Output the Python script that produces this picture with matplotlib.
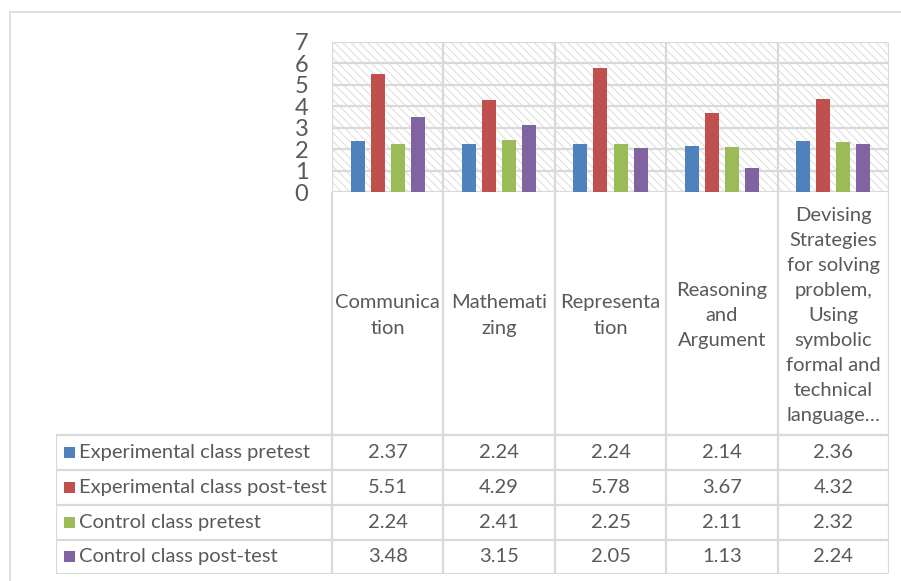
import numpy as np
import matplotlib.pyplot as plt
from matplotlib.patches import Rectangle

plt.rcParams['font.family'] = ['Lato', 'DejaVu Sans']

categories = ['Communica\ntion', 'Mathemati\nzing', 'Representa\ntion',
              'Reasoning\nand\nArgument',
              'Devising\nStrategies\nfor solving\nproblem,\nUsing\nsymbolic\nformal and\ntechnical\nlanguage…']
series = ['Experimental class pretest', 'Experimental class post-test',
          'Control class pretest', 'Control class post-test']
exp_pre = [2.37, 2.24, 2.24, 2.14, 2.36]
exp_post = [5.51, 4.29, 5.78, 3.67, 4.32]
ctl_pre = [2.24, 2.41, 2.25, 2.11, 2.32]
ctl_post = [3.48, 3.15, 2.05, 1.13, 2.24]
colors = ['#4F81BD', '#C0504D', '#9BBB59', '#8064A2']
values = [exp_pre, exp_post, ctl_pre, ctl_post]

txt = '#595959'
grid = '#d9d9d9'
W, H = 901, 581
plt.rcParams['hatch.linewidth'] = 0.7

fig = plt.figure(figsize=(W / 100, H / 100), dpi=100)

# outer chart frame
fig.add_artist(Rectangle((10 / W, -0.1), 1.1, 1.1 - 12 / H, transform=fig.transFigure,
                         fill=False, edgecolor=grid, linewidth=1.2))

# plot area
left, right, top, bottom = 332, 889, 42, 192
colw = (right - left) / 5
ax = fig.add_axes([left / W, 1 - bottom / H, (right - left) / W, (bottom - top) / H])
ax.set_xlim(-0.5, 4.5)
ax.set_ylim(0, 7)
ax.add_patch(Rectangle((-0.5, 0), 5, 7, facecolor='white', edgecolor='#dcdcdc',
                       linewidth=0, hatch='\\\\\\\\', zorder=0))
for y in range(8):
    ax.axhline(y, color=grid, linewidth=1.6, zorder=1)
for x in np.arange(-0.5, 5, 1):
    ax.axvline(x, color=grid, linewidth=1.6, zorder=1)

x = np.arange(len(categories))
step, bw = 0.18, 0.126
for k, (vals, c) in enumerate(zip(values, colors)):
    ax.bar(x + (k - 1.5) * step, vals, width=bw, color=c, zorder=3)

ax.set_xticks([])
ax.set_yticks(range(8))
ax.tick_params(axis='y', length=0, pad=17, labelsize=17, labelcolor=txt)
for s in ax.spines.values():
    s.set_visible(False)

# data table under the plot
tleft, tbot = 56, 574
rows = [435, 470, 505, 539.5, 574]
tax = fig.add_axes([tleft / W, 1 - tbot / H, (right - tleft) / W, (tbot - bottom) / H])
xl = -0.5 - (left - tleft) / colw
tax.set_xlim(xl, 4.5)
tax.set_ylim(tbot, bottom)
tax.axis('off')


def px2x(px):
    return -0.5 + (px - left) / colw


lw = 1.6
for xv in np.arange(-0.5, 5, 1):
    tax.plot([xv, xv], [bottom, tbot], color=grid, linewidth=lw, solid_capstyle='butt')
tax.plot([xl, xl], [rows[0], tbot], color=grid, linewidth=lw)
for r in rows:
    tax.plot([xl, 4.5], [r, r], color=grid, linewidth=lw)

fs = 14.5
for i, cat in enumerate(categories):
    tax.text(i, (bottom + rows[0]) / 2 + 2, cat, ha='center', va='center',
             fontsize=fs, color=txt, linespacing=1.58)

for k, (name, vals, c) in enumerate(zip(series, values, colors)):
    yc = (rows[k] + rows[k + 1]) / 2
    tax.add_patch(Rectangle((px2x(64), yc - 5.5), px2x(75) - px2x(64), 11,
                            facecolor=c, edgecolor='none'))
    tax.text(px2x(79), yc, name, ha='left', va='center', fontsize=fs, color=txt)
    for i, v in enumerate(vals):
        tax.text(i, yc, f'{v:.2f}', ha='center', va='center', fontsize=fs, color=txt)

fig.savefig('out.png', dpi=100)
